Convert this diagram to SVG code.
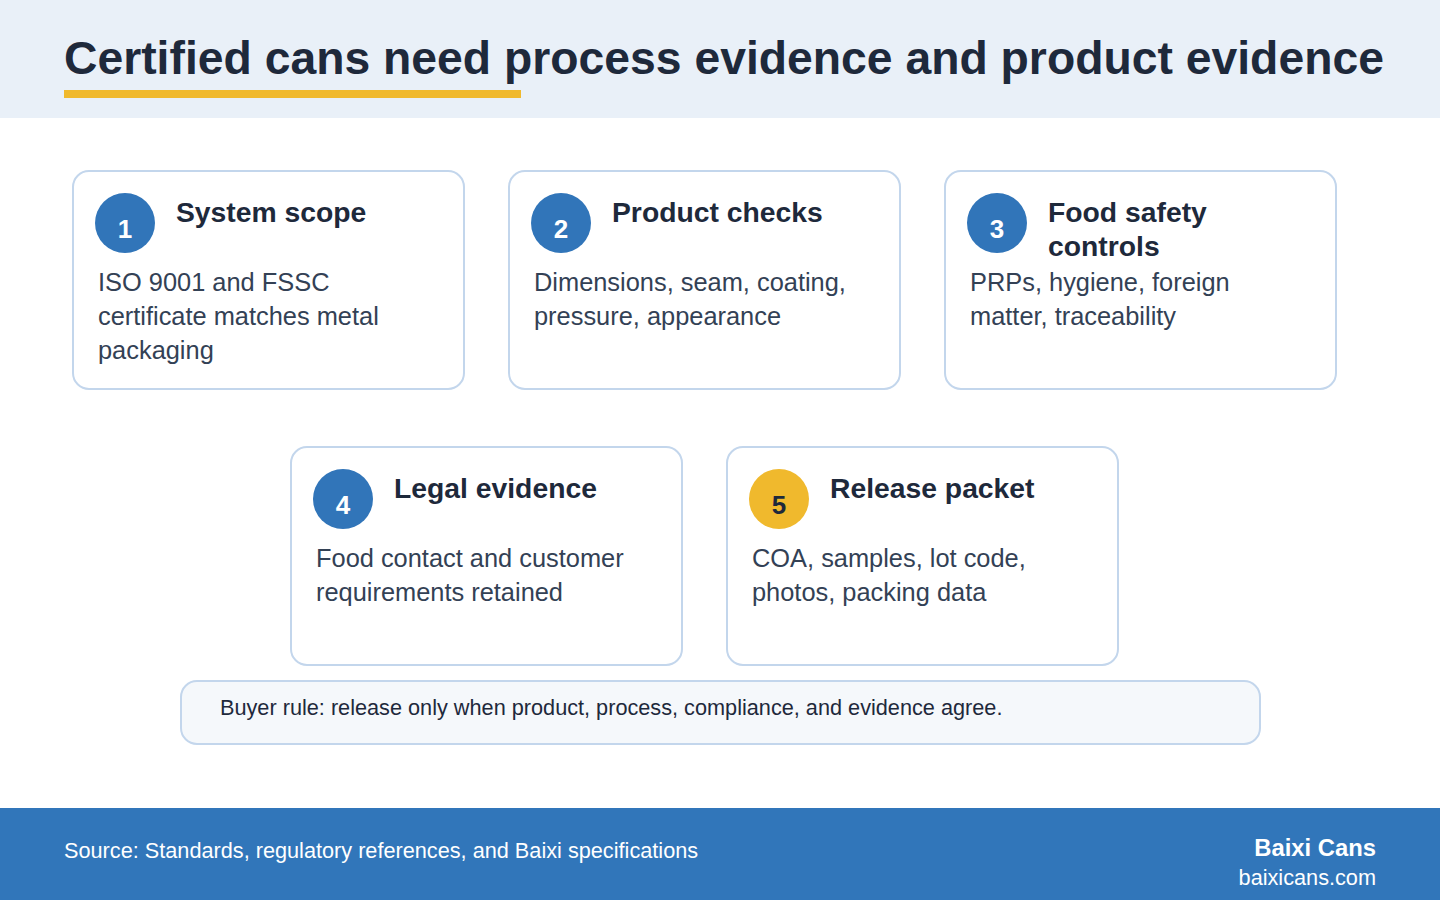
<svg xmlns="http://www.w3.org/2000/svg" width="1440" height="900" viewBox="0 0 1440 900">
<style>
.card{fill:#FFFFFF;stroke:#C3D6EC;stroke-width:2}
.num{font-family:"Liberation Sans",Arial,sans-serif;font-weight:bold;font-size:26px;text-anchor:middle}
.ttl{font-family:"Liberation Sans",Arial,sans-serif;font-weight:bold;font-size:28.3px;fill:#1E293B}
.body{font-family:"Liberation Sans",Arial,sans-serif;font-size:25.4px;fill:#334155}
</style>
<rect x="0" y="0" width="1440" height="900" fill="#FFFFFF"/>
<rect x="0" y="0" width="1440" height="118" fill="#E9F0F8"/>
<text x="64" y="74" font-family="Liberation Sans, Arial, sans-serif" font-weight="bold" font-size="46.3" fill="#1E293B">Certified cans need process evidence and product evidence</text>
<rect x="64" y="90" width="457" height="8" fill="#F0B92D"/>

<g id="node1">
<rect class="card" x="73" y="171" width="391" height="218" rx="16"/>
<circle cx="125" cy="223" r="30" fill="#3175B9"/>
<text class="num" x="125" y="238" fill="#FFFFFF">1</text>
<text class="ttl" x="176" y="222">System scope</text>
<text class="body" x="98" y="291">ISO 9001 and FSSC</text>
<text class="body" x="98" y="325">certificate matches metal</text>
<text class="body" x="98" y="359">packaging</text>
</g>
<g id="node2">
<rect class="card" x="509" y="171" width="391" height="218" rx="16"/>
<circle cx="561" cy="223" r="30" fill="#3175B9"/>
<text class="num" x="561" y="238" fill="#FFFFFF">2</text>
<text class="ttl" x="612" y="222">Product checks</text>
<text class="body" x="534" y="291">Dimensions, seam, coating,</text>
<text class="body" x="534" y="325">pressure, appearance</text>
</g>
<g id="node3">
<rect class="card" x="945" y="171" width="391" height="218" rx="16"/>
<circle cx="997" cy="223" r="30" fill="#3175B9"/>
<text class="num" x="997" y="238" fill="#FFFFFF">3</text>
<text class="ttl" x="1048" y="222">Food safety</text>
<text class="ttl" x="1048" y="256">controls</text>
<text class="body" x="970" y="291">PRPs, hygiene, foreign</text>
<text class="body" x="970" y="325">matter, traceability</text>
</g>
<g id="node4">
<rect class="card" x="291" y="447" width="391" height="218" rx="16"/>
<circle cx="343" cy="499" r="30" fill="#3175B9"/>
<text class="num" x="343" y="514" fill="#FFFFFF">4</text>
<text class="ttl" x="394" y="498">Legal evidence</text>
<text class="body" x="316" y="567">Food contact and customer</text>
<text class="body" x="316" y="601">requirements retained</text>
</g>
<g id="node5">
<rect class="card" x="727" y="447" width="391" height="218" rx="16"/>
<circle cx="779" cy="499" r="30" fill="#F0B92D"/>
<text class="num" x="779" y="514" fill="#1E293B">5</text>
<text class="ttl" x="830" y="498">Release packet</text>
<text class="body" x="752" y="567">COA, samples, lot code,</text>
<text class="body" x="752" y="601">photos, packing data</text>
</g>
<g id="connectors"></g>
<g id="rule">
<rect x="181" y="681" width="1079" height="63" rx="16" fill="#F5F8FB" stroke="#C3D6EC" stroke-width="2"/>
<text x="220" y="715" font-family="Liberation Sans, Arial, sans-serif" font-size="21.7" fill="#1E293B">Buyer rule: release only when product, process, compliance, and evidence agree.</text>
</g>
<g id="footer">
<rect x="0" y="808" width="1440" height="92" fill="#3176BA"/>
<text x="64" y="858" font-family="Liberation Sans, Arial, sans-serif" font-size="21.7" fill="#FFFFFF">Source: Standards, regulatory references, and Baixi specifications</text>
<text x="1376" y="856" text-anchor="end" font-family="Liberation Sans, Arial, sans-serif" font-weight="bold" font-size="23.8" fill="#FFFFFF">Baixi Cans</text>
<text x="1376" y="885" text-anchor="end" font-family="Liberation Sans, Arial, sans-serif" font-size="21.7" fill="#FFFFFF">baixicans.com</text>
</g>
</svg>
